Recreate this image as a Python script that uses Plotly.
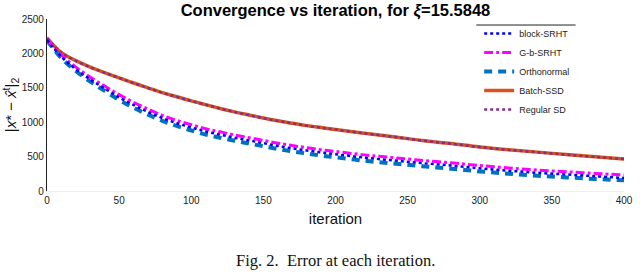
import plotly.graph_objects as go

iterations = [0, 10, 20, 30, 40, 50, 60, 70, 80, 90, 100, 110, 120, 130, 140, 150, 160, 170, 180, 190,
              200, 220, 240, 260, 280, 300, 320, 340, 360, 380, 400]

block_srht = [2200, 1950, 1770, 1620, 1490, 1360, 1250, 1150, 1060, 985, 925, 865, 820, 775, 735, 695,
              655, 620, 590, 560, 535, 485, 445, 405, 370, 330, 295, 265, 240, 215, 190]
gb_srht = [2210, 1975, 1800, 1655, 1525, 1400, 1290, 1190, 1100, 1025, 965, 905, 860, 815, 775, 735,
           695, 660, 630, 600, 575, 525, 485, 445, 410, 370, 335, 305, 280, 255, 233]
orthonormal = [2190, 1930, 1745, 1590, 1455, 1325, 1210, 1110, 1020, 945, 880, 820, 775, 730, 690, 650,
               610, 575, 545, 515, 490, 440, 400, 360, 325, 285, 252, 222, 198, 175, 155]
batch_ssd = [2226, 2010, 1895, 1800, 1720, 1645, 1570, 1500, 1430, 1370, 1310, 1255, 1200, 1150, 1105,
             1060, 1020, 985, 950, 922, 895, 840, 790, 735, 690, 640, 600, 565, 530, 498, 466]
regular_sd = [2224, 2008, 1893, 1798, 1718, 1643, 1568, 1498, 1428, 1368, 1308, 1253, 1198, 1148, 1103,
              1058, 1018, 983, 948, 920, 893, 838, 788, 733, 688, 638, 598, 563, 528, 496, 464]

x_ticks = [0, 50, 100, 150, 200, 250, 300, 350, 400]
y_ticks = [0, 500, 1000, 1500, 2000, 2500]

fig = go.Figure()

def add(name, y, color, width, dash, rank):
    fig.add_trace(go.Scatter(x=iterations, y=y, name=name, mode="lines",
                             line=dict(color=color, width=width, dash=dash, shape="spline"),
                             legendrank=rank))

add("Batch-SSD", batch_ssd, "#D95319", 3.5, "solid", 4)
add("Regular SD", regular_sd, "#7E2F8E", 2.5, "dot", 5)
add("Orthonormal", orthonormal, "#0072BD", 4, "8px,6px", 3)
add("G-b-SRHT", gb_srht, "#FF00FF", 3, "dashdot", 2)
add("block-SRHT", block_srht, "#0000FF", 2.5, "dot", 1)

fig.update_layout(
    width=640, height=272,
    margin=dict(l=46, r=7, t=19, b=81),
    paper_bgcolor="white", plot_bgcolor="white",
    font=dict(family="Liberation Sans, Arial, sans-serif", color="#222"),
    title=dict(text="<b>Convergence vs iteration, for <i>ξ</i>=15.5848</b>",
               xref="paper", x=0.5, xanchor="center", y=0.985, yanchor="top",
               font=dict(size=16.5, color="black")),
    showlegend=True,
    legend=dict(x=0.749, y=1.0, xanchor="left", yanchor="top",
                bgcolor="rgba(0,0,0,0)", borderwidth=0, font=dict(size=9, color="#222"),
                itemwidth=30, tracegroupgap=0),
    xaxis=dict(range=[0, 400], tickvals=x_ticks, ticks="", showgrid=False, zeroline=False,
               ticklabeloverflow="allow",
               showline=True, linecolor="#eeeeee", tickfont=dict(size=10, color="#222"),
               title=dict(text="iteration", font=dict(size=15, color="#111"), standoff=8)),
    yaxis=dict(range=[0, 2500], tickvals=y_ticks, ticks="", showgrid=False, zeroline=False,
               showline=True, linecolor="#222", linewidth=1.2, tickfont=dict(size=10, color="#222"),
               title=dict(text="|<i>x</i>* − <i>x̂</i><sup>t</sup>|<sub>2</sub>",
                          font=dict(size=15, color="#111"), standoff=4)),
    shapes=[dict(type="line", xref="paper", yref="paper", x0=0.744, x1=0.916, y0=0.965, y1=0.965,
                 line=dict(color="#222", width=1))],
    annotations=[dict(text="Fig. 2.  Error at each iteration.", xref="paper", yref="paper",
                      x=0.50, y=-0.405, xanchor="center", yanchor="middle", showarrow=False,
                      font=dict(family="Liberation Serif, Times New Roman, serif", size=16.5, color="#111"))],
)

fig.write_html("out.html", config={"displayModeBar": False},
               post_script="document.body.style.margin='0';")
